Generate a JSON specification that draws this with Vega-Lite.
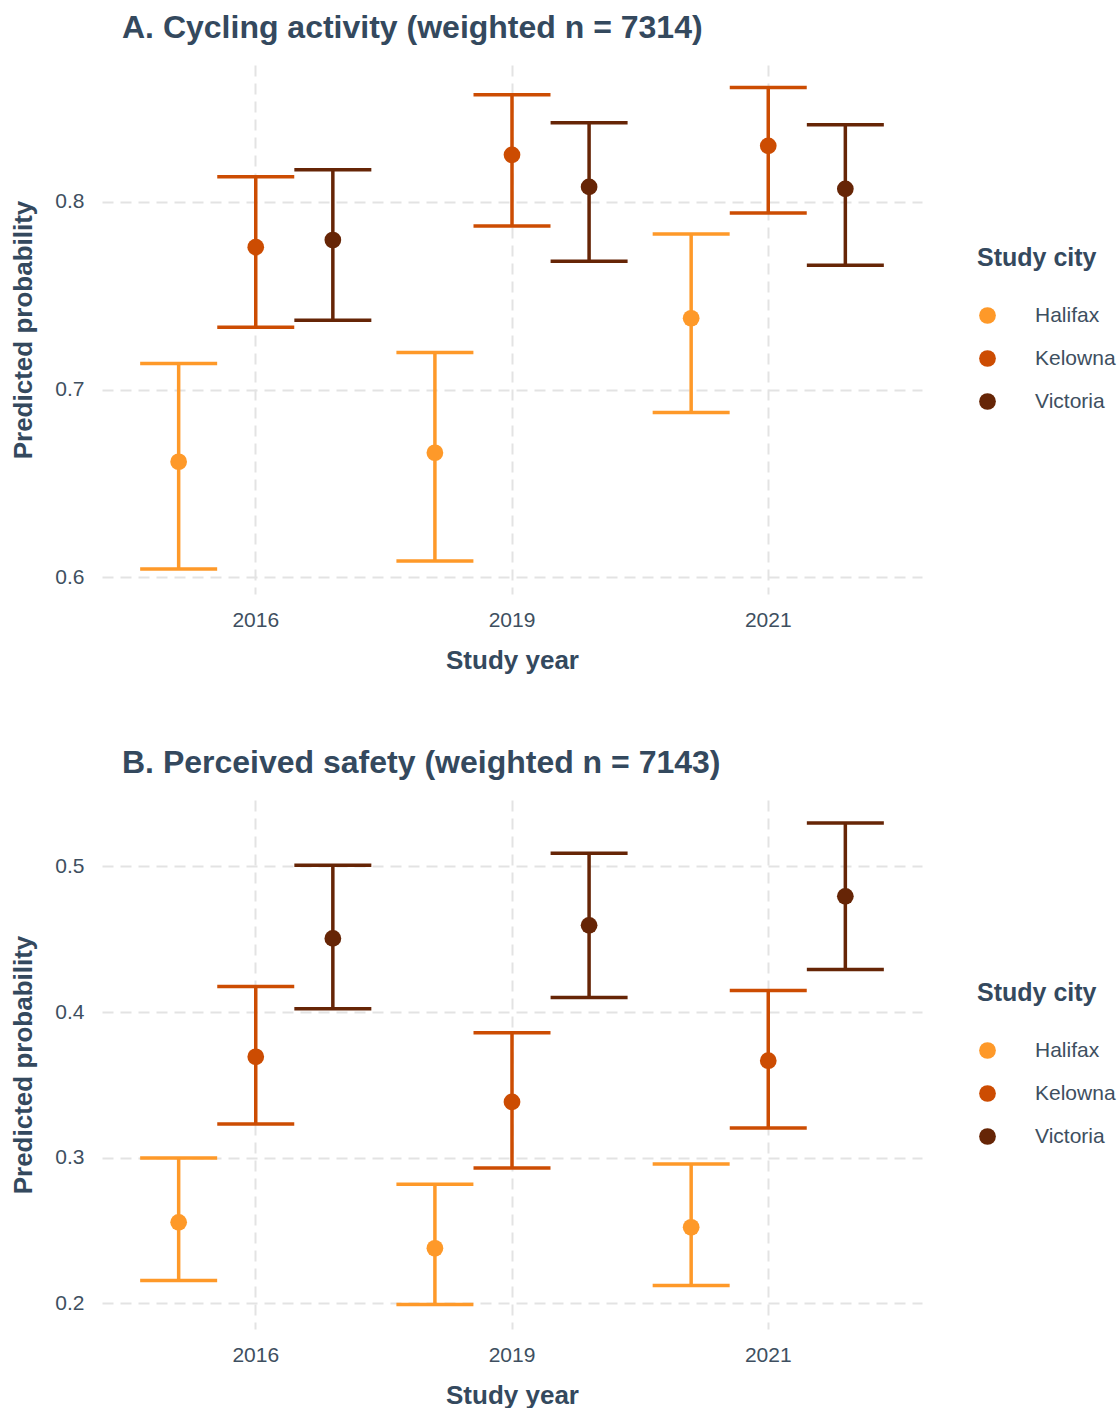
{
  "$schema": "https://vega.github.io/schema/vega-lite/v6.json",
  "padding": {"left": 10, "top": 12, "right": 5, "bottom": 5},
  "background": "white",
  "datasets": {
    "cycling": [
      {"year": "2016", "city": "Halifax", "prob": 0.6615, "lower": 0.6043, "upper": 0.7139},
      {"year": "2016", "city": "Kelowna", "prob": 0.7759, "lower": 0.7332, "upper": 0.8134},
      {"year": "2016", "city": "Victoria", "prob": 0.7797, "lower": 0.7369, "upper": 0.8171},
      {"year": "2019", "city": "Halifax", "prob": 0.6663, "lower": 0.6086, "upper": 0.7198},
      {"year": "2019", "city": "Kelowna", "prob": 0.8251, "lower": 0.7872, "upper": 0.8572},
      {"year": "2019", "city": "Victoria", "prob": 0.808, "lower": 0.7684, "upper": 0.8422},
      {"year": "2021", "city": "Halifax", "prob": 0.738, "lower": 0.6877, "upper": 0.7829},
      {"year": "2021", "city": "Kelowna", "prob": 0.8299, "lower": 0.7941, "upper": 0.861},
      {"year": "2021", "city": "Victoria", "prob": 0.807, "lower": 0.7663, "upper": 0.8412}
    ],
    "safety": [
      {"year": "2016", "city": "Halifax", "prob": 0.2557, "lower": 0.2158, "upper": 0.2998},
      {"year": "2016", "city": "Kelowna", "prob": 0.3693, "lower": 0.3232, "upper": 0.4175},
      {"year": "2016", "city": "Victoria", "prob": 0.4505, "lower": 0.4023, "upper": 0.5008},
      {"year": "2019", "city": "Halifax", "prob": 0.2379, "lower": 0.1993, "upper": 0.2819},
      {"year": "2019", "city": "Kelowna", "prob": 0.3383, "lower": 0.2929, "upper": 0.3858},
      {"year": "2019", "city": "Victoria", "prob": 0.4595, "lower": 0.4099, "upper": 0.509},
      {"year": "2021", "city": "Halifax", "prob": 0.2523, "lower": 0.2124, "upper": 0.2957},
      {"year": "2021", "city": "Kelowna", "prob": 0.3666, "lower": 0.3204, "upper": 0.4147},
      {"year": "2021", "city": "Victoria", "prob": 0.4794, "lower": 0.4292, "upper": 0.5297}
    ]
  },
  "spacing": 74,
  "resolve": {"scale": {"y": "independent"}, "legend": {"fill": "independent", "stroke": "independent"}},
  "vconcat": [
    {
      "width": 820,
      "height": 529,
      "data": {"name": "cycling"},
      "title": {"text": "A. Cycling activity (weighted n = 7314)", "anchor": "start", "frame": "group", "dx": 20, "offset": 20},
      "encoding": {
        "x": {"field": "year", "type": "ordinal", "title": "Study year",
              "scale": {"paddingInner": 0, "paddingOuter": 0.1},
              "axis": {"labelAngle": 0, "bandPosition": 0.5}},
        "xOffset": {"field": "city", "type": "nominal", "scale": {"paddingInner": 0, "paddingOuter": 0.162}}
      },
      "layer": [
        {
          "mark": {"type": "rule", "strokeWidth": 3.5, "opacity": 1},
          "encoding": {
            "y": {"field": "lower", "type": "quantitative", "title": "Predicted probability",
                  "scale": {"domain": [0.591, 0.873], "nice": false, "zero": false},
                  "axis": {"values": [0.6, 0.7, 0.8], "format": ".1f"}},
            "y2": {"field": "upper"},
            "stroke": {"field": "city", "type": "nominal", "legend": null}
          }
        },
        {
          "mark": {"type": "tick", "size": 77, "thickness": 3.5, "orient": "horizontal", "opacity": 1},
          "encoding": {
            "y": {"field": "lower", "type": "quantitative"},
            "color": {"field": "city", "type": "nominal", "legend": null}
          }
        },
        {
          "mark": {"type": "tick", "size": 77, "thickness": 3.5, "orient": "horizontal", "opacity": 1},
          "encoding": {
            "y": {"field": "upper", "type": "quantitative"},
            "color": {"field": "city", "type": "nominal", "legend": null}
          }
        },
        {
          "mark": {"type": "point", "filled": true, "size": 280, "opacity": 1, "strokeWidth": 0},
          "encoding": {
            "y": {"field": "prob", "type": "quantitative"},
            "fill": {"field": "city", "type": "nominal", "title": "Study city",
                      "legend": {"orient": "none", "legendX": 875, "legendY": 181}}
          }
        }
      ]
    },
    {
      "width": 820,
      "height": 529,
      "data": {"name": "safety"},
      "title": {"text": "B. Perceived safety (weighted n = 7143)", "anchor": "start", "frame": "group", "dx": 20, "offset": 20},
      "encoding": {
        "x": {"field": "year", "type": "ordinal", "title": "Study year",
              "scale": {"paddingInner": 0, "paddingOuter": 0.1},
              "axis": {"labelAngle": 0, "bandPosition": 0.5}},
        "xOffset": {"field": "city", "type": "nominal", "scale": {"paddingInner": 0, "paddingOuter": 0.162}}
      },
      "layer": [
        {
          "mark": {"type": "rule", "strokeWidth": 3.5, "opacity": 1},
          "encoding": {
            "y": {"field": "lower", "type": "quantitative", "title": "Predicted probability",
                  "scale": {"domain": [0.1825, 0.5455], "nice": false, "zero": false},
                  "axis": {"values": [0.2, 0.3, 0.4, 0.5], "format": ".1f"}},
            "y2": {"field": "upper"},
            "stroke": {"field": "city", "type": "nominal", "legend": null}
          }
        },
        {
          "mark": {"type": "tick", "size": 77, "thickness": 3.5, "orient": "horizontal", "opacity": 1},
          "encoding": {
            "y": {"field": "lower", "type": "quantitative"},
            "color": {"field": "city", "type": "nominal", "legend": null}
          }
        },
        {
          "mark": {"type": "tick", "size": 77, "thickness": 3.5, "orient": "horizontal", "opacity": 1},
          "encoding": {
            "y": {"field": "upper", "type": "quantitative"},
            "color": {"field": "city", "type": "nominal", "legend": null}
          }
        },
        {
          "mark": {"type": "point", "filled": true, "size": 280, "opacity": 1, "strokeWidth": 0},
          "encoding": {
            "y": {"field": "prob", "type": "quantitative"},
            "fill": {"field": "city", "type": "nominal", "title": "Study city",
                      "legend": {"orient": "none", "legendX": 875, "legendY": 181}}
          }
        }
      ]
    }
  ],
  "config": {
    "font": "Liberation Sans",
    "view": {"stroke": null},
    "range": {"category": ["#FE9929", "#CC4C02", "#662506"]},
    "title": {"fontSize": 32, "fontWeight": "bold", "color": "#34495E", "font": "Liberation Sans"},
    "axis": {
      "domain": false,
      "ticks": false,
      "grid": true,
      "gridColor": "#E3E3E3",
      "gridWidth": 2,
      "gridDash": [11, 7],
      "labelFontSize": 21,
      "labelColor": "#3E4F60",
      "labelFont": "Liberation Sans",
      "titleFontSize": 26,
      "titleFontWeight": "bold",
      "titleColor": "#34495E",
      "titleFont": "Liberation Sans"
    },
    "axisY": {"labelPadding": 18, "titlePadding": 18},
    "axisX": {"labelPadding": 15, "titlePadding": 17},
    "legend": {
      "padding": 0,
      "titleFontSize": 25,
      "titleFontWeight": "bold",
      "titleColor": "#34495E",
      "titlePadding": 34,
      "labelFontSize": 21,
      "labelColor": "#3E4F60",
      "labelOffset": 37,
      "rowPadding": 21,
      "symbolSize": 280,
      "symbolType": "circle",
      "symbolStrokeWidth": 0
    }
  }
}
